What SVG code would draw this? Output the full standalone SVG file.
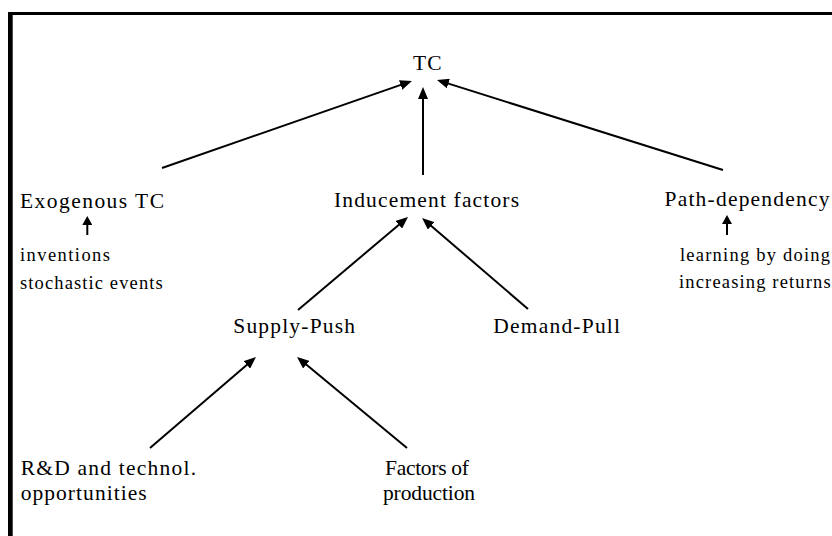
<svg xmlns="http://www.w3.org/2000/svg" width="832" height="536" viewBox="0 0 832 536">
<style>
text{font-family:'Liberation Serif','Times New Roman',serif;fill:#000}
.m{font-size:21.5px}
.s{font-size:18.5px}
.c line{stroke:#000;stroke-width:2}
</style>
<defs>
<marker id="ah" markerUnits="userSpaceOnUse" markerWidth="12" markerHeight="10" refX="4" refY="5" orient="auto"><path d="M0,0 L12,5 L0,10 z" fill="#000"/></marker>
<marker id="ahs" markerUnits="userSpaceOnUse" markerWidth="9" markerHeight="10" refX="3" refY="5" orient="auto"><path d="M0,0 L9,5 L0,10 z" fill="#000"/></marker>
</defs>
<rect width="832" height="536" fill="#fff"/>
<g id="frame">
<rect x="8" y="12" width="824" height="3" fill="#000"/>
<rect x="8" y="12" width="4.7" height="524" fill="#000"/>
</g>
<g id="tc"><text class="m" x="413" y="69.5" textLength="28.5" lengthAdjust="spacing">TC</text></g>
<g id="exo"><text class="m" x="20" y="207.5" textLength="144" lengthAdjust="spacing">Exogenous TC</text></g>
<g id="ind"><text class="m" x="334" y="206.5" textLength="185" lengthAdjust="spacing">Inducement factors</text></g>
<g id="path"><text class="m" x="664.5" y="206" textLength="165" lengthAdjust="spacing">Path-dependency</text></g>
<g id="exo-src">
<text class="s" x="20" y="260.7" textLength="90" lengthAdjust="spacing">inventions</text>
<text class="s" x="20" y="289" textLength="142.7" lengthAdjust="spacing">stochastic events</text>
</g>
<g id="path-src">
<text class="s" x="680" y="260.7" textLength="150" lengthAdjust="spacing">learning by doing</text>
<text class="s" x="679" y="288.3" textLength="151.7" lengthAdjust="spacing">increasing returns</text>
</g>
<g id="supply"><text class="m" x="233.3" y="333.3" textLength="121.7" lengthAdjust="spacing">Supply-Push</text></g>
<g id="demand"><text class="m" x="493.3" y="333.3" textLength="126.7" lengthAdjust="spacing">Demand-Pull</text></g>
<g id="rd">
<text class="m" x="20.7" y="475" textLength="175.3" lengthAdjust="spacing">R&amp;D and technol.</text>
<text class="m" x="20.7" y="500" textLength="126" lengthAdjust="spacing">opportunities</text>
</g>
<g id="factors">
<text class="m" x="385" y="475" textLength="84" lengthAdjust="spacing">Factors of</text>
<text class="m" x="383" y="500" textLength="92" lengthAdjust="spacing">production</text>
</g>
<g id="connectors" class="c">
<line x1="162" y1="168" x2="404.4" y2="83.6" marker-end="url(#ah)"/>
<line x1="423" y1="175" x2="423" y2="95" marker-end="url(#ah)"/>
<line x1="723" y1="170" x2="444.6" y2="82.4" marker-end="url(#ah)"/>
<line x1="298" y1="310" x2="401.9" y2="222.2" marker-end="url(#ah)"/>
<line x1="528" y1="309" x2="428.1" y2="223.2" marker-end="url(#ah)"/>
<line x1="150" y1="448" x2="249.9" y2="362.2" marker-end="url(#ah)"/>
<line x1="407" y1="448" x2="303.2" y2="362.1" marker-end="url(#ah)"/>
<line x1="87.3" y1="235" x2="87.3" y2="222" marker-end="url(#ahs)"/>
<line x1="727" y1="235" x2="727" y2="221" marker-end="url(#ahs)"/>
</g>
</svg>
